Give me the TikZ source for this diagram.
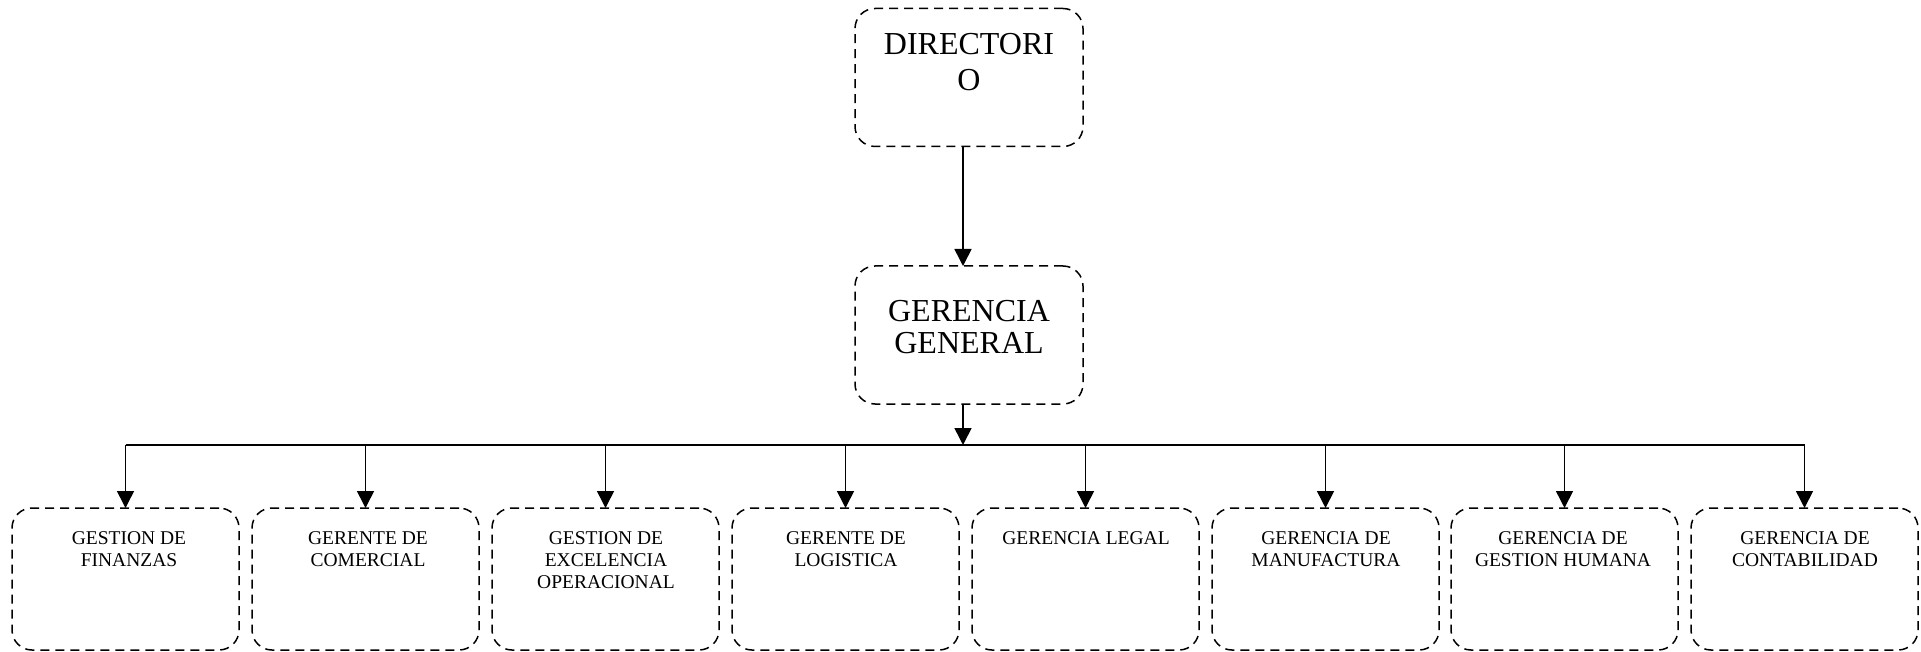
\documentclass[tikz,border=0pt]{standalone}
\usepackage{fontspec}
\setmainfont{Liberation Serif}
\usetikzlibrary{arrows.meta}
\begin{document}
\begin{tikzpicture}[x=1pt,y=-1pt,
  box/.style={draw, line width=1.5pt, dash pattern=on 9pt off 6pt,
    rounded corners=20pt, inner sep=0pt, outer sep=0pt},
  bigbox/.style={box, minimum width=228pt, minimum height=138pt},
  smallbox/.style={box, minimum width=227pt, minimum height=142pt},
  bigtext/.style={anchor=north, align=center, inner sep=0pt},
  smalltext/.style={anchor=north, align=center, inner sep=0pt,
    font=\fontsize{19.5}{22}\selectfont},
  link/.style={line width=1.6pt, -{Triangle[length=17pt,width=17pt]}},
  busline/.style={line width=1.6pt}
]
\useasboundingbox (0,0) rectangle (1921,652);

% upper levels
\node[bigbox] (dir) at (969,77.5) {};
\node[bigtext, font=\fontsize{32}{36}\selectfont] (dirt) at (969,33.5) {DIRECTORI\\O};
\node[bigbox] (gg) at (969,335) {};
\node[bigtext, font=\fontsize{32}{31.5}\selectfont] (ggt) at (969,300.5) {GERENCIA\\GENERAL};

% departments
\node[smallbox] (b1) at (125.5,579) {};
\node[smallbox] (b2) at (365.5,579) {};
\node[smallbox] (b3) at (605.5,579) {};
\node[smallbox] (b4) at (845.5,579) {};
\node[smallbox] (b5) at (1085.5,579) {};
\node[smallbox] (b6) at (1325.5,579) {};
\node[smallbox] (b7) at (1564.5,579) {};
\node[smallbox] (b8) at (1804.5,579) {};

\node[smalltext] (t1) at (129,531) {GESTION DE\\FINANZAS};
\node[smalltext] (t2) at (368,531) {GERENTE DE\\COMERCIAL};
\node[smalltext] (t3) at (606,531) {GESTION DE\\EXCELENCIA\\OPERACIONAL};
\node[smalltext] (t4) at (846,531) {GERENTE DE\\LOGISTICA};
\node[smalltext] (t5) at (1086,531) {GERENCIA LEGAL};
\node[smalltext] (t6) at (1326,531) {GERENCIA DE\\MANUFACTURA};
\node[smalltext] (t7) at (1563,531) {GERENCIA DE\\GESTION HUMANA};
\node[smalltext] (t8) at (1805,531) {GERENCIA DE\\CONTABILIDAD};

% connectors
\coordinate (bus) at (969,445);
\draw[link] ([xshift=-6pt]dir.south) -- ([xshift=-6pt]gg.north);
\draw[link] ([xshift=-6pt]gg.south) -- ([xshift=-6pt]bus);
\coordinate (j1) at (b1.north |- bus);
\coordinate (j8) at (b8.north |- bus);
\draw[busline] (j1) -- (j8);
\foreach \k in {1,...,8} {
  \draw[link] (b\k.north |- bus) -- (b\k.north);
}
\end{tikzpicture}
\end{document}
